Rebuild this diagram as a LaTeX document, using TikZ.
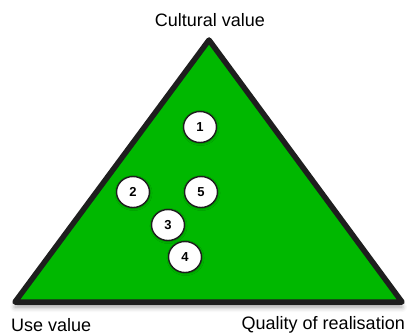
\documentclass[tikz,border=0pt]{standalone}
\usepackage{fontspec}
\setmainfont{Liberation Sans}
\usetikzlibrary{shadows.blur,shapes.geometric}
\definecolor{tgreen}{RGB}{0,184,0}
\definecolor{tline}{RGB}{30,30,30}
\begin{document}
\begin{tikzpicture}[x=1pt,y=-1pt,
  lbl/.style={font=\fontsize{18}{20}\selectfont, inner sep=0pt},
  num/.style={ellipse, draw=tline, line width=1.4pt, fill=white, minimum width=33pt, minimum height=31pt, inner sep=0pt, font=\fontsize{13}{15}\selectfont\bfseries, blur shadow={shadow xshift=0.5pt, shadow yshift=-1pt, shadow blur steps=4, shadow opacity=30}}]
\useasboundingbox (0,0) rectangle (409,334);
\coordinate (A) at (209,40);
\coordinate (L) at (15,302);
\coordinate (R) at (402,302);
\fill[tgreen, draw=tline, line width=5.5pt, line join=round, blur shadow={shadow xshift=0pt, shadow yshift=-5pt, shadow blur radius=5pt, shadow opacity=40}] (A) -- (L) -- (R) -- cycle;
\node[num] (n1) at (200,127) {1};
\node[num] (n2) at (133,192) {2};
\node[num] (n5) at (201,192) {5};
\node[num] (n3) at (168,225) {3};
\node[num] (n4) at (185,257) {4};
\node[lbl] (top) at (210,20) {Cultural value};
\node[lbl, anchor=west] (lv) at (11,325) {Use value};
\node[lbl, anchor=east] (rv) at (405,325) {Quality of realisation};
\end{tikzpicture}
\end{document}
